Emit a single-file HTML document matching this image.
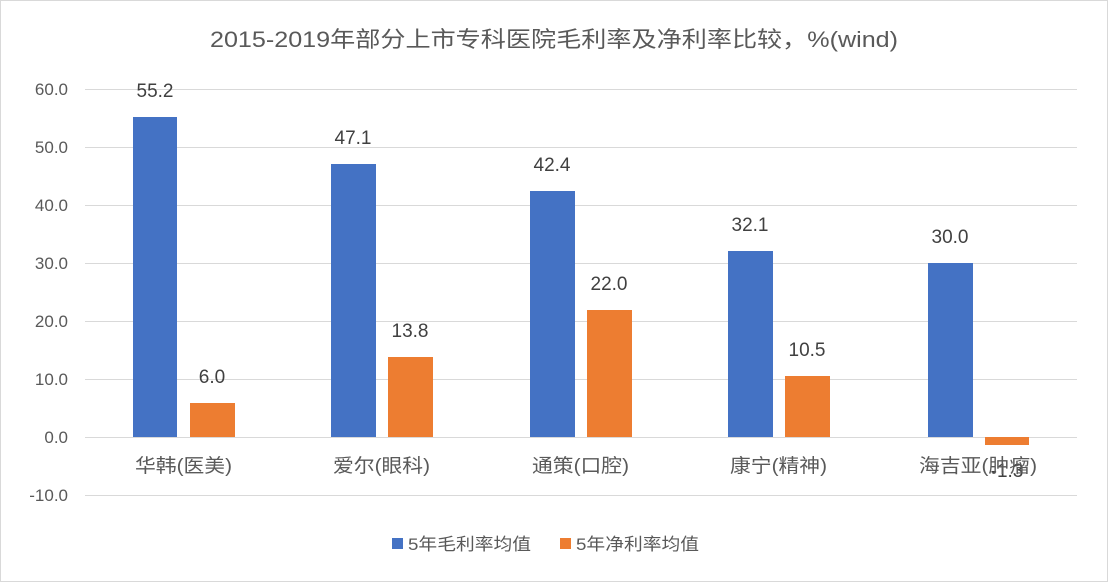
<!DOCTYPE html><html><head><meta charset="utf-8"><style>
body{margin:0;background:#fff}
svg{display:block;font-family:"Liberation Sans","Noto Sans CJK SC",sans-serif}
</style></head><body>
<svg width="1108" height="582" viewBox="0 0 1108 582">
<rect x="0.5" y="0.5" width="1107" height="581" fill="#fff" stroke="#d9d9d9"/>
<text x="210" y="47" font-size="22" fill="#595959" textLength="688" lengthAdjust="spacingAndGlyphs">2015-2019年部分上市专科医院毛利率及净利率比较，%(wind)</text>
<g stroke="#d9d9d9" stroke-width="1">
<line x1="85" x2="1077" y1="89.5" y2="89.5"/><line x1="85" x2="1077" y1="147.5" y2="147.5"/>
<line x1="85" x2="1077" y1="205.5" y2="205.5"/><line x1="85" x2="1077" y1="263.5" y2="263.5"/>
<line x1="85" x2="1077" y1="321.5" y2="321.5"/><line x1="85" x2="1077" y1="379.5" y2="379.5"/>
<line x1="85" x2="1077" y1="437.5" y2="437.5"/><line x1="85" x2="1077" y1="495.5" y2="495.5"/>
</g>
<g font-size="17" fill="#595959" text-anchor="end">
<text x="68" y="95">60.0</text><text x="68" y="153">50.0</text><text x="68" y="211">40.0</text>
<text x="68" y="269">30.0</text><text x="68" y="327">20.0</text><text x="68" y="385">10.0</text>
<text x="68" y="443">0.0</text><text x="68" y="501">-10.0</text>
</g>
<g fill="#4472c4">
<rect x="133" y="117" width="44" height="320"/>
<rect x="331" y="164" width="45" height="273"/>
<rect x="530" y="191" width="45" height="246"/>
<rect x="728" y="251" width="45" height="186"/>
<rect x="928" y="263" width="45" height="174"/>
</g>
<g fill="#ed7d31">
<rect x="190" y="403" width="45" height="34"/>
<rect x="388" y="357" width="45" height="80"/>
<rect x="587" y="310" width="45" height="127"/>
<rect x="785" y="376" width="45" height="61"/>
<rect x="985" y="437" width="44" height="8"/>
</g>
<g font-size="19" fill="#404040" text-anchor="middle">
<text x="155" y="97">55.2</text><text x="212" y="383">6.0</text>
<text x="353" y="144">47.1</text><text x="410" y="337">13.8</text>
<text x="552" y="171">42.4</text><text x="609" y="290">22.0</text>
<text x="750" y="231">32.1</text><text x="807" y="356">10.5</text>
<text x="950" y="243">30.0</text><text x="1007" y="477">-1.3</text>
</g>
<g font-size="19" fill="#595959">
<text x="135" y="472" textLength="97" lengthAdjust="spacingAndGlyphs">华韩(医美)</text>
<text x="333" y="472" textLength="97" lengthAdjust="spacingAndGlyphs">爱尔(眼科)</text>
<text x="532" y="472" textLength="97" lengthAdjust="spacingAndGlyphs">通策(口腔)</text>
<text x="730" y="472" textLength="97" lengthAdjust="spacingAndGlyphs">康宁(精神)</text>
<text x="919" y="472" textLength="118" lengthAdjust="spacingAndGlyphs">海吉亚(肿瘤)</text>
</g>
<rect x="392" y="538" width="11" height="11" fill="#4472c4"/>
<text x="408" y="550" font-size="17" fill="#595959" textLength="123" lengthAdjust="spacingAndGlyphs">5年毛利率均值</text>
<rect x="560" y="538" width="11" height="11" fill="#ed7d31"/>
<text x="576" y="550" font-size="17" fill="#595959" textLength="123" lengthAdjust="spacingAndGlyphs">5年净利率均值</text>
</svg>
</body></html>
